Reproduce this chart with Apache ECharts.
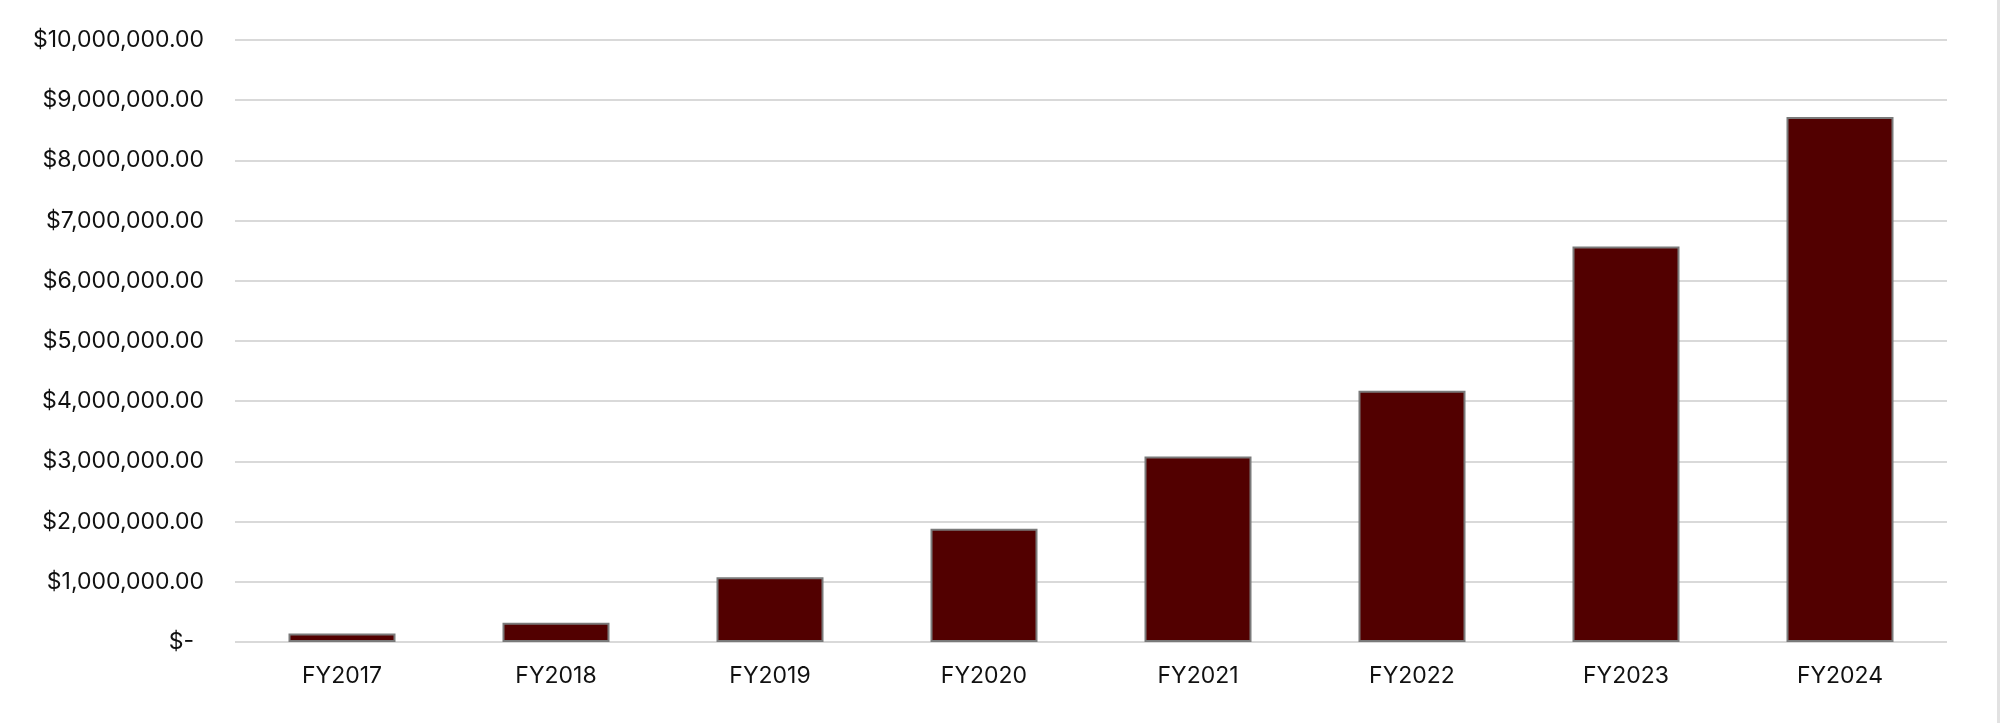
<!DOCTYPE html>
<html>
<head>
<meta charset="utf-8">
<script src="https://cdn.jsdelivr.net/npm/echarts@6/dist/echarts.min.js"></script>
<style>
  html, body { margin: 0; padding: 0; background: #fff; }
  #chart { width: 1997px; height: 723px; border-right: 3px solid #e2e2e2; }
</style>
</head>
<body>
<div id="chart"></div>
<script>
// Fiscal years and amounts (USD)
const years = ['FY2017', 'FY2018', 'FY2019', 'FY2020', 'FY2021', 'FY2022', 'FY2023', 'FY2024'];
const amounts = [140000, 320000, 1075000, 1880000, 3080000, 4175000, 6570000, 8720000];

const FONT = 'Inter, "Noto Sans", sans-serif';

function money(v) {
  if (v === 0) return '{dash|$-}';
  return '$' + v.toLocaleString('en-US', { minimumFractionDigits: 2, maximumFractionDigits: 2 });
}

const chart = echarts.init(document.getElementById('chart'), null, { renderer: 'canvas' });

chart.setOption({
  animation: false,
  backgroundColor: '#fff',
  grid: { left: 235, right: 50, top: 40, bottom: 81 },
  xAxis: {
    type: 'category',
    data: years,
    axisLine: { show: false },
    axisTick: { show: false },
    axisLabel: { color: '#111', fontFamily: FONT, fontSize: 23, margin: 23 },
  },
  yAxis: {
    type: 'value',
    min: 0,
    max: 10000000,
    interval: 1000000,
    axisLine: { show: false },
    axisTick: { show: false },
    splitLine: { lineStyle: { color: '#d9d9d9', width: 2 } },
    axisLabel: {
      color: '#111', fontFamily: FONT, fontSize: 23, margin: 31,
      formatter: money,
      rich: { dash: { color: '#111', fontFamily: FONT, fontSize: 23, padding: [0, 10, 0, 0] } },
    },
  },
  series: [{
    type: 'bar',
    data: amounts,
    barWidth: 107,
    itemStyle: { color: '#520000', borderColor: '#7a7a7a', borderWidth: 2 },
  }],
});
</script>
</body>
</html>
